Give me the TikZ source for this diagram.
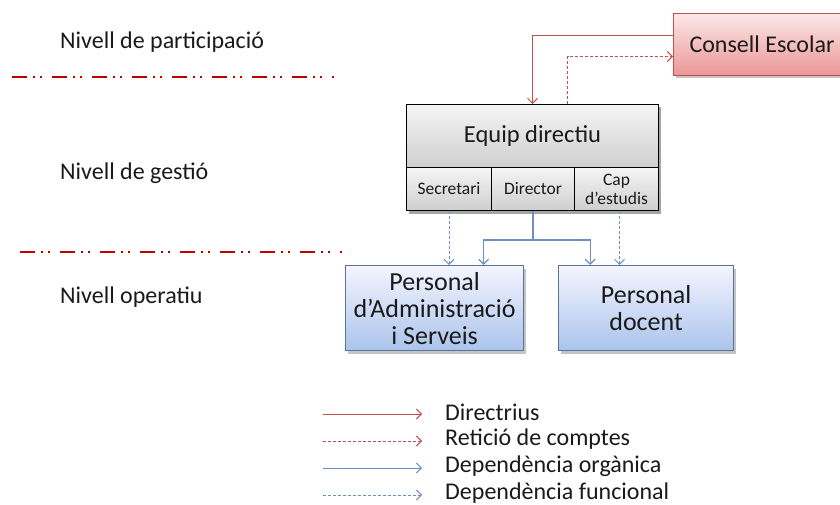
\documentclass[tikz,border=0pt]{standalone}
\usepackage{fontspec}
\setmainfont{Carlito}
\usetikzlibrary{arrows.meta,shadows,calc}
\definecolor{cred}{HTML}{C0504D}
\definecolor{cblue}{HTML}{6F8FBF}
\definecolor{lvlred}{HTML}{C00000}
\definecolor{txt}{HTML}{1A1A1A}
\tikzset{
  shad/.style={drop shadow={opacity=0.45,shadow xshift=2pt,shadow yshift=-3pt}},
  graybox/.style={draw=black,line width=1pt,top color=gray!8,bottom color=gray!38,shad,anchor=north west,inner sep=0pt,text=txt,align=center},
  bluebox/.style={draw=cblue!80!black,line width=1.2pt,top color=blue!4!white,bottom color={rgb,255:red,170;green,196;blue,235},shad,anchor=north west,inner sep=0pt,text=txt,align=center,font=\fontsize{26}{27}\selectfont},
  pinkbox/.style={draw=cred,line width=1pt,top color={rgb,255:red,252;green,232;blue,232},bottom color={rgb,255:red,236;green,150;blue,150},shad,anchor=north west,inner sep=0pt,text=txt,font=\fontsize{24}{26}\selectfont},
  lvl/.style={anchor=west,text=txt,font=\fontsize{24}{26}\selectfont,inner sep=0pt},
  lvlline/.style={lvlred,line width=2.5pt,dash pattern=on 15pt off 6pt on 2pt off 5pt on 2pt off 10pt},
  tip/.style={-{Straight Barb[length=5pt,width=10pt]}},
  redsolid/.style={cred,line width=1pt,tip},
  reddash/.style={cred,line width=1pt,tip,dash pattern=on 3pt off 2pt},
  bluesolid/.style={cblue,line width=1.2pt,tip},
  bluedash/.style={cblue,line width=1pt,tip,dash pattern=on 3pt off 2pt},
  subtxt/.style={font=\fontsize{17.5}{19}\selectfont,drop shadow={opacity=0}},
  leg/.style={anchor=west,text=txt,font=\fontsize{24}{26}\selectfont,inner sep=0pt}
}
\begin{document}
\begin{tikzpicture}[x=1pt,y=-1pt]
\useasboundingbox[fill=white] (0,0) rectangle (840,505);
% level labels
\node[lvl] (l1) at (60,42) {Nivell de participació};
\node[lvl] (l2) at (60,173) {Nivell de gestió};
\node[lvl] (l3) at (60,297) {Nivell operatiu};
\coordinate (d1a) at (12,77); \coordinate (d1b) at (334,77);
\coordinate (d2a) at (20,252); \coordinate (d2b) at (342,252);
\draw[lvlline] (d1a) -- (d1b);
\draw[lvlline] (d2a) -- (d2b);
% Consell Escolar
\node[pinkbox,minimum width=177pt,minimum height=62pt] (cons) at (673,13) {Consell Escolar};
% Equip directiu
\node[graybox,minimum width=252pt,minimum height=106pt] (eqall) at (406,104) {};
\node[graybox,minimum width=252pt,minimum height=63pt,font=\fontsize{24.5}{26}\selectfont,drop shadow={opacity=0}] (eq) at (406,104) {Equip directiu};
\node[graybox,minimum width=85pt,minimum height=43pt,subtxt] (sec) at (406,167) {Secretari};
\node[graybox,minimum width=83pt,minimum height=43pt,subtxt] (dir) at (491,167) {Director};
\node[graybox,minimum width=84pt,minimum height=43pt,subtxt] (cap) at (574,167) {Cap\\d’estudis};
% Personal boxes
\node[bluebox,minimum width=178pt,minimum height=85pt] (adm) at (345,265) {Personal\\d’Administració\\i Serveis};
\node[bluebox,minimum width=175pt,minimum height=85pt] (doc) at (558,265) {Personal\\docent};
% red connectors
\draw[redsolid] ([yshift=9pt]cons.west) -| (eq.north);
\draw[reddash] ([xshift=35pt]eq.north) |- ([yshift=-12pt]cons.west);
% blue connectors
\draw[cblue,line width=1.2pt] (dir.south) -- ++(0,29) coordinate (j);
\draw[bluesolid] (j) -| ([xshift=49pt]adm.north);
\draw[bluesolid] (j) -| ([xshift=-56pt]doc.north);
\draw[bluedash] (sec.south) -- (sec.south |- adm.north);
\draw[bluedash] ([xshift=3pt]cap.south) -- ([xshift=3pt]cap.south |- doc.north);
% legend
\node[leg] (t1) at (445,412) {Directrius};
\node[leg] (t2) at (445,439) {Retició de comptes};
\node[leg] (t3) at (445,466) {Dependència orgànica};
\node[leg] (t4) at (445,493) {Dependència funcional};
\coordinate (a1) at (323,414); \coordinate (a2) at (323,441);
\coordinate (a3) at (323,468); \coordinate (a4) at (323,495);
\draw[redsolid] (a1) -- (a1 -| 422,0);
\draw[reddash] (a2) -- (a2 -| 422,0);
\draw[bluesolid,line width=1pt] (a3) -- (a3 -| 422,0);
\draw[bluedash] (a4) -- (a4 -| 422,0);
\end{tikzpicture}
\end{document}
